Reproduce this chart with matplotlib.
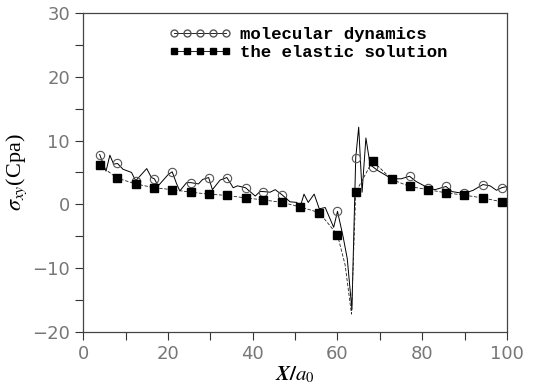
import matplotlib.pyplot as plt
from matplotlib.lines import Line2D

# molecular dynamics: jagged curve
md_x = [3.9, 5.4, 6.3, 7.2, 8.1, 9.4, 11.4, 12.4, 15.0, 16.1, 16.8, 17.7, 20.1, 21.0,
        22.0, 22.8, 24.4, 25.4, 27.2, 28.2, 29.6, 30.5, 32.3, 33.9, 35.4, 36.4, 38.3,
        40.6, 41.7, 42.5, 44.1, 45.3, 46.9, 48.8, 50.4, 51.2, 52.1, 53.1, 54.5, 55.7,
        57.1, 59.1, 60.0, 61.3, 62.3, 63.4, 64.3, 65.0, 65.8, 66.7, 67.7, 68.3, 69.5,
        72.8, 75.0, 77.0, 78.5, 81.3, 83.0, 85.6, 87.0, 89.8, 92.0, 94.3, 96.0, 97.5,
        98.7, 100.0]
md_y = [7.8, 5.2, 7.7, 6.3, 6.4, 5.5, 5.0, 3.7, 5.6, 4.2, 4.0, 2.9, 4.7, 5.1,
        3.3, 2.1, 3.4, 3.4, 3.2, 3.9, 4.2, 2.3, 3.8, 4.2, 2.6, 2.9, 2.6,
        1.3, 2.0, 2.0, 1.9, 2.3, 1.5, 0.4, 0.3, -0.4, 1.6, 0.3, 1.6, -0.7,
        -0.5, -3.6, -1.1, -5.0, -8.5, -16.5, 7.3, 12.1, 1.9, 10.4, 6.2, 5.9, 5.3,
        4.0, 4.0, 4.4, 3.6, 2.6, 2.3, 2.8, 2.0, 1.7, 2.2, 3.1, 2.9, 2.2,
        2.6, 2.8]
# positions of the circle markers
md_mx = [3.9, 8.1, 12.4, 16.8, 21.0, 25.4, 29.6, 33.9, 38.3, 42.5, 46.9, 60.0,
         64.3, 68.3, 77.0, 81.3, 85.6, 89.8, 94.3, 98.7]
md_my = [7.8, 6.4, 3.7, 4.0, 5.1, 3.4, 4.2, 4.2, 2.6, 2.0, 1.5, -1.1,
         7.3, 5.9, 4.4, 2.6, 2.8, 1.7, 3.1, 2.6]

# elastic solution
el_x = [3.9, 8.1, 12.4, 16.8, 21.0, 25.4, 29.6, 33.9, 38.3, 42.5, 46.9, 51.2, 55.7,
        60.0, 61.8, 63.3, 64.3, 68.3, 72.8, 77.0, 81.3, 85.6, 89.8, 94.3, 98.7]
el_y = [6.1, 4.1, 3.2, 2.6, 2.3, 1.9, 1.6, 1.4, 1.0, 0.7, 0.3, -0.4, -1.3,
        -4.8, -9.5, -17.2, 1.9, 6.8, 3.9, 2.8, 2.3, 1.8, 1.45, 1.0, 0.4]
el_marker_idx = [i for i in range(len(el_x)) if i not in (14, 15)]

plt.rcParams['mathtext.fontset'] = 'stix'

fig = plt.figure(figsize=(5.47, 3.91), dpi=100)
ax = fig.add_axes([0.152, 0.151, 0.775, 0.816])

ax.plot(md_x, md_y, "-", color="black", lw=0.7)
ax.plot(md_mx, md_my, "o", mfc="none", mec="#555555", ms=6, mew=0.8)
ax.plot(el_x, el_y, "--", color="#222222", lw=0.6, dashes=(4, 2),
        marker="s", ms=6, mfc="black", mec="black", markevery=el_marker_idx)

ax.set_xlim(0, 100)
ax.set_ylim(-20, 30)
ax.set_xticks(range(0, 101, 20))
ax.set_xticks(range(10, 100, 20), minor=True)
ax.set_yticks(range(-20, 31, 10))
ax.set_yticks(range(-15, 30, 10), minor=True)
ax.set_yticklabels(["\u221220", "\u221210", "0", "10", "20", "30"])
ax.tick_params(which="both", direction="out", length=6, width=0.8, color="#333333",
               labelsize=13, labelcolor="#777777")
for s in ax.spines.values():
    s.set_color("#444444")
    s.set_linewidth(0.9)

ax.set_ylabel(r"$\sigma_{xy}$(Cpa)", family="Liberation Serif", fontsize=16, labelpad=2)
ax.set_xlabel(r"$\boldsymbol{X/a_0}$", fontsize=15, labelpad=1)

handles = [
    Line2D([], [], color="black", lw=0.6, marker="o", mfc="none", mec="#555555", ms=5),
    Line2D([], [], color="black", lw=0.6, marker="s", mfc="black", mec="black", ms=5),
]
ax.legend(handles, ["molecular dynamics", "the elastic solution"], loc="upper left",
          bbox_to_anchor=(0.165, 1.005), frameon=False, numpoints=5, handlelength=3.6,
          handletextpad=0.5, labelspacing=0.15,
          prop={"family": "Liberation Mono", "weight": "bold", "size": 12.5})

plt.savefig("out.png", dpi=100)
plt.close()
